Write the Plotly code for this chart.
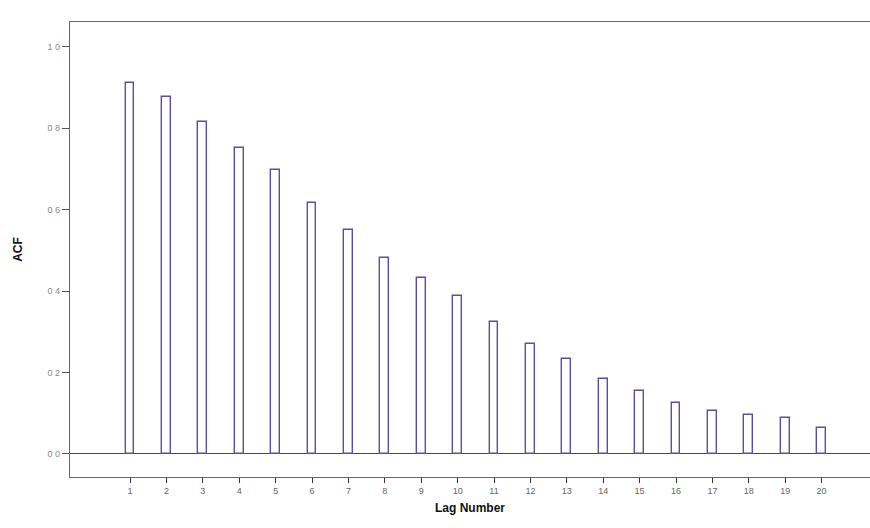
import plotly.graph_objects as go

lags = list(range(1, 21))
acf = [0.912, 0.877, 0.816, 0.752, 0.698, 0.617, 0.550, 0.482, 0.432, 0.387,
       0.323, 0.271, 0.232, 0.185, 0.154, 0.124, 0.104, 0.095, 0.087, 0.064]
y_ticks = [0.0, 0.2, 0.4, 0.6, 0.8, 1.0]
y_tick_labels = ["0 0", "0 2", "0 4", "0 6", "0 8", "1 0"]

bar_line = "#5b4fa0"
axis_col = "#6a6090"

fig = go.Figure()
fig.add_trace(go.Bar(
    x=lags, y=acf, width=0.24,
    marker=dict(color="white", line=dict(color=bar_line, width=1.4)),
    showlegend=False, hoverinfo="skip",
))

fig.update_layout(
    width=870, height=528,
    margin=dict(l=70, r=0, t=22, b=51),
    paper_bgcolor="white", plot_bgcolor="white",
    font=dict(family="Liberation Sans, Arial, sans-serif", color="#888888", size=9),
    xaxis=dict(
        range=[-0.65, 21.33], automargin=False,
        tickmode="array", tickvals=lags, ticktext=[str(v) for v in lags],
        ticks="outside", ticklen=5, tickcolor="#333333", tickwidth=1,
        showline=True, linecolor=axis_col, linewidth=1.2, mirror=True,
        showgrid=False, zeroline=False,
        tickfont=dict(size=9, color="#666666"),
        title=dict(text="<b>Lag Number</b>", font=dict(size=12, color="#111111"), standoff=8),
    ),
    yaxis=dict(
        range=[-0.057, 1.061], automargin=False,
        tickmode="array", tickvals=y_ticks, ticktext=y_tick_labels,
        ticks="outside", ticklen=7, tickcolor="#555555", tickwidth=1,
        showline=True, linecolor=axis_col, linewidth=1.2, mirror=True,
        showgrid=False,
        zeroline=True, zerolinecolor="#4a3f78", zerolinewidth=1.4,
        tickfont=dict(size=9, color="#888888"),
        title=dict(text="<b>ACF</b>", font=dict(size=12, color="#111111"), standoff=22),
    ),
    bargap=0,
)

fig.write_html(
    "out.html",
    config={"displayModeBar": False},
    post_script="document.body.style.margin='0';document.body.style.overflow='hidden';",
)
